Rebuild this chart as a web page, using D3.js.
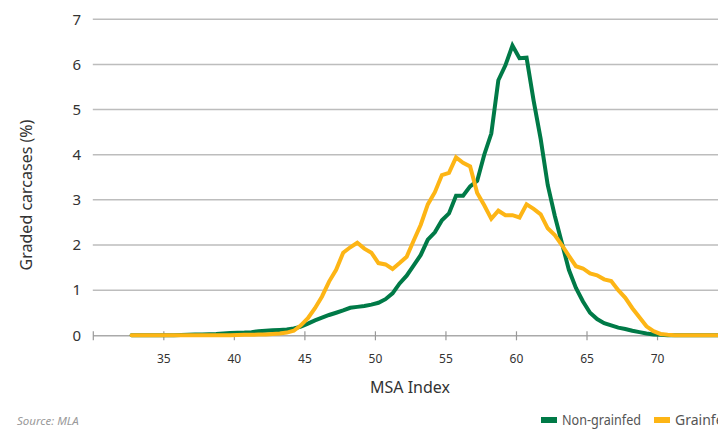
<!DOCTYPE html>
<html>
<head>
<meta charset="utf-8">
<script src="https://cdn.jsdelivr.net/npm/d3@7"></script>
<style>
  html, body { margin: 0; padding: 0; background: #fff; overflow: hidden; }
  svg { display: block; }
</style>
</head>
<body>
<div id="chart"></div>
<script>
// MSA index bins (category centres)
const msa = [32.75,33.25,33.75,34.25,34.75,35.25,35.75,36.25,36.75,37.25,
             37.75,38.25,38.75,39.25,39.75,40.25,40.75,41.25,41.75,42.25,
             42.75,43.25,43.75,44.25,44.75,45.25,45.75,46.25,46.75,47.25,
             47.75,48.25,48.75,49.25,49.75,50.25,50.75,51.25,51.75,52.25,
             52.75,53.25,53.75,54.25,54.75,55.25,55.75,56.25,56.75,57.25,
             57.75,58.25,58.75,59.25,59.75,60.25,60.75,61.25,61.75,62.25,
             62.75,63.25,63.75,64.25,64.75,65.25,65.75,66.25,66.75,67.25,
             67.75,68.25,68.75,69.25,69.75,70.25,70.75,71.25,71.75,72.25,
             72.75,73.25,73.75,74.25,74.75];

const nonGrainfed = [0,0,0,0,0,0,0,0.005,0.01,0.015,
                     0.02,0.025,0.03,0.04,0.05,0.055,0.06,0.07,0.09,0.1,
                     0.11,0.12,0.13,0.15,0.19,0.26,0.33,0.39,0.45,0.5,
                     0.55,0.61,0.63,0.65,0.68,0.72,0.8,0.93,1.15,1.32,
                     1.55,1.78,2.12,2.28,2.55,2.7,3.09,3.09,3.3,3.42,
                     4.0,4.47,5.65,5.98,6.42,6.14,6.15,5.2,4.35,3.33,
                     2.65,2.05,1.45,1.05,0.75,0.5,0.36,0.27,0.22,0.17,
                     0.14,0.1,0.07,0.04,0.02,0.01,0,0,0,0,
                     0,0,0,0,0];

const grainfed = [0,0,0,0,0,0,0,0,0,0,
                  0,0,0,0,0,0.005,0.01,0.01,0.015,0.02,
                  0.03,0.04,0.06,0.1,0.22,0.38,0.6,0.86,1.19,1.45,
                  1.83,1.95,2.05,1.92,1.83,1.6,1.57,1.47,1.6,1.74,
                  2.1,2.45,2.9,3.17,3.55,3.6,3.94,3.82,3.74,3.15,
                  2.88,2.58,2.76,2.66,2.66,2.61,2.9,2.8,2.68,2.37,
                  2.22,2.0,1.76,1.53,1.48,1.37,1.33,1.24,1.2,1.0,
                  0.83,0.6,0.4,0.2,0.09,0.03,0.01,0,0,0,
                  0,0,0,0,0];

const xTicks = [30,35,40,45,50,55,60,65,70];
const xTickLabels = ["","35","40","45","50","55","60","65","70"];
const yTicks = [0,1,2,3,4,5,6,7];
const seriesNames = ["Non-grainfed","Grainfed"];
const colors = ["#007A47","#FDB515"];

const W = 718, H = 430;
const svg = d3.select("#chart").append("svg").attr("width", W).attr("height", H);

const x = d3.scaleLinear().domain([30, 80]).range([92.8, 92.8 + 50 * 14.106]);
const y = d3.scaleLinear().domain([0, 7]).range([335.3, 19.3]);

const font = "'Noto Sans', 'Open Sans', sans-serif";

// gridlines
svg.append("g").selectAll("line").data(yTicks.filter(d => d > 0)).join("line")
  .attr("x1", x(30)).attr("x2", x(80))
  .attr("y1", d => y(d)).attr("y2", d => y(d))
  .attr("stroke", "#bdbdbd").attr("stroke-width", 1.5);

// y labels
svg.append("g").selectAll("text").data(yTicks).join("text")
  .attr("x", 81).attr("y", d => y(d)).attr("dy", "0.35em")
  .attr("text-anchor", "end")
  .attr("font-family", font).attr("font-size", 15).attr("fill", "#333")
  .text(d => d);

// x axis
const xAxis = d3.axisBottom(x).tickValues(xTicks)
  .tickFormat((d, i) => xTickLabels[i]).tickSize(5).tickSizeOuter(0).tickPadding(14);
const gx = svg.append("g").attr("transform", `translate(0,${y(0)})`).call(xAxis);
gx.select(".domain").attr("stroke", "#aaa").attr("stroke-width", 1.5);
gx.selectAll(".tick line").attr("stroke", "#999").attr("stroke-width", 1.2).attr("y1", -4).attr("y2", 5);
gx.selectAll(".tick text").attr("font-family", font).attr("font-size", 12).attr("fill", "#333");

// lines
const data = [nonGrainfed, grainfed];
const line = d3.line().x((d, i) => x(msa[i])).y(d => y(d));
svg.append("g").selectAll("path").data(data).join("path")
  .attr("d", line)
  .attr("fill", "none")
  .attr("stroke", (d, i) => colors[i])
  .attr("stroke-width", 4)
  .attr("stroke-linejoin", "miter")
  .attr("stroke-miterlimit", 3)
  .attr("stroke-linecap", "round");

// axis titles
svg.append("text").attr("x", 410).attr("y", 393)
  .attr("text-anchor", "middle").attr("font-family", font).attr("font-size", 16).attr("fill", "#333")
  .text("MSA Index");
svg.append("text").attr("transform", "translate(32,195) rotate(-90)")
  .attr("text-anchor", "middle").attr("font-family", font).attr("font-size", 16).attr("fill", "#333")
  .text("Graded carcases (%)");

// source
svg.append("text").attr("x", 17).attr("y", 425)
  .attr("font-family", font).attr("font-size", 11.5).attr("font-style", "italic").attr("fill", "#9a9a9a")
  .text("Source: MLA");

// legend
const legendX = [541, 654];
const lg = svg.append("g").selectAll("g").data(seriesNames).join("g")
  .attr("transform", (d, i) => `translate(${legendX[i]},420)`);
lg.append("rect").attr("x", 0).attr("y", -3).attr("width", 16).attr("height", 6)
  .attr("fill", (d, i) => colors[i]);
lg.append("text").attr("x", 21).attr("y", 0).attr("dy", "0.35em")
  .attr("font-family", font).attr("font-size", 14).attr("fill", "#555")
  .each(function(d, i) { if (i === 0) d3.select(this).attr("textLength", 79).attr("lengthAdjust", "spacingAndGlyphs"); })
  .text(d => d);
</script>
</body>
</html>
